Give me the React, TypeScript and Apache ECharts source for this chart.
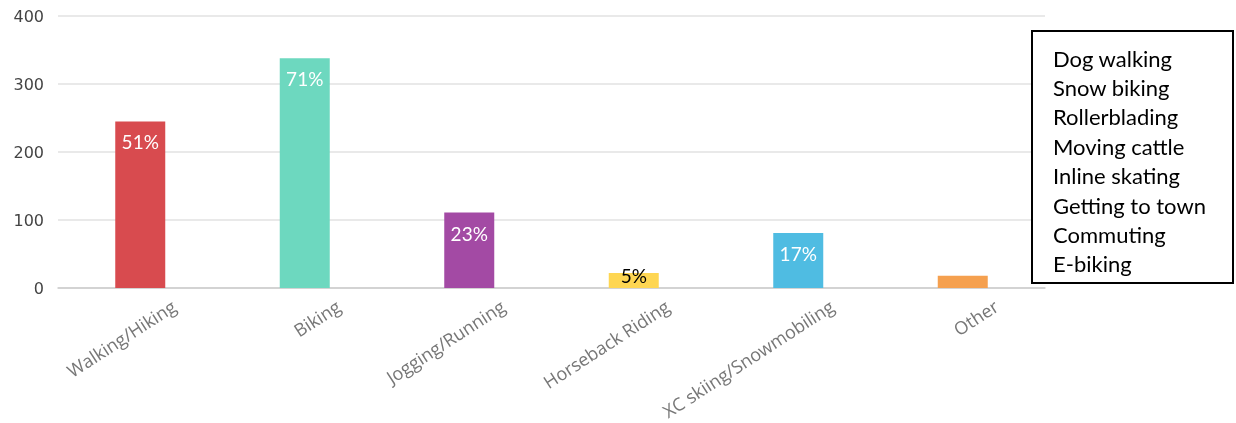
import React, { useEffect, useRef } from "react";
import * as echarts from "echarts";

const categories = [
  "Walking/Hiking",
  "Biking",
  "Jogging/Running",
  "Horseback Riding",
  "XC skiing/Snowmobiling",
  "Other",
];
const counts = [245, 338, 111, 22, 81, 18];
const percentLabels = ["51%", "71%", "23%", "5%", "17%", ""];
const barColors = ["#d84b4f", "#6dd8bf", "#a34aa4", "#fed652", "#4fbce2", "#f5a04f"];
const otherActivities = [
  "Dog walking",
  "Snow biking",
  "Rollerblading",
  "Moving cattle",
  "Inline skating",
  "Getting to town",
  "Commuting",
  "E-biking",
];
const yTicks = { min: 0, max: 400, interval: 100 };

export default function App() {
  const ref = useRef<HTMLDivElement>(null);
  useEffect(() => {
    if (!ref.current) return;
    const chart = echarts.init(ref.current, undefined, { renderer: "svg" });
    const data = counts.map((v, i) => {
      const item: any = {
        value: v,
        itemStyle: { color: barColors[i] },
      };
      if (percentLabels[i] === "5%") {
        item.label = { position: "top", distance: -12, color: "#000" };
      }
      return item;
    });
    chart.setOption({
      animation: false,
      grid: { left: 58, right: 191, top: 16, bottom: 135, containLabel: false },
      xAxis: {
        type: "category",
        data: categories,
        axisLine: { lineStyle: { color: "#cccccc", width: 1.5 } },
        axisTick: { alignWithLabel: true, length: 5, lineStyle: { color: "#555" } },
        axisLabel: {
          rotate: 33,
          interval: 0,
          margin: 38,
          padding: [0, -40, 0, 0],
          color: "#777777",
          fontFamily: "Open Sans",
          fontSize: 18,
        },
      },
      yAxis: {
        type: "value",
        min: yTicks.min,
        max: yTicks.max,
        interval: yTicks.interval,
        axisLine: { show: false },
        axisTick: { show: false },
        splitLine: { lineStyle: { color: "#e2e2e2", width: 1.5 } },
        axisLabel: {
          margin: 14,
          color: "#444",
          fontFamily: "DejaVu Sans",
          fontSize: 16,
        },
      },
      series: [
        {
          type: "bar",
          data,
          barWidth: 50,
          label: {
            show: true,
            position: "insideTop",
            distance: 11,
            color: "#ffffff",
            fontFamily: "Lato",
            fontSize: 19,
            formatter: (p: any) => percentLabels[p.dataIndex],
          },
        },
      ],
      graphic: [
        {
          type: "rect",
          x: 1032,
          y: 31,
          shape: { x: 0, y: 0, width: 201, height: 252 },
          style: { fill: "#fff", stroke: "#000", lineWidth: 2 },
          z: 10,
        },
        ...otherActivities.map((t, i) => ({
          type: "text",
          x: 1053,
          y: 58 + i * 29.4,
          z: 11,
          style: {
            text: t,
            fill: "#000",
            font: "22px Lato",
            verticalAlign: "middle",
          },
        })),
      ],
    });
    return () => chart.dispose();
  }, []);
  return (
    <div
      ref={ref}
      style={{ position: "fixed", left: 0, top: 0, width: 1236, height: 423 }}
    />
  );
}
